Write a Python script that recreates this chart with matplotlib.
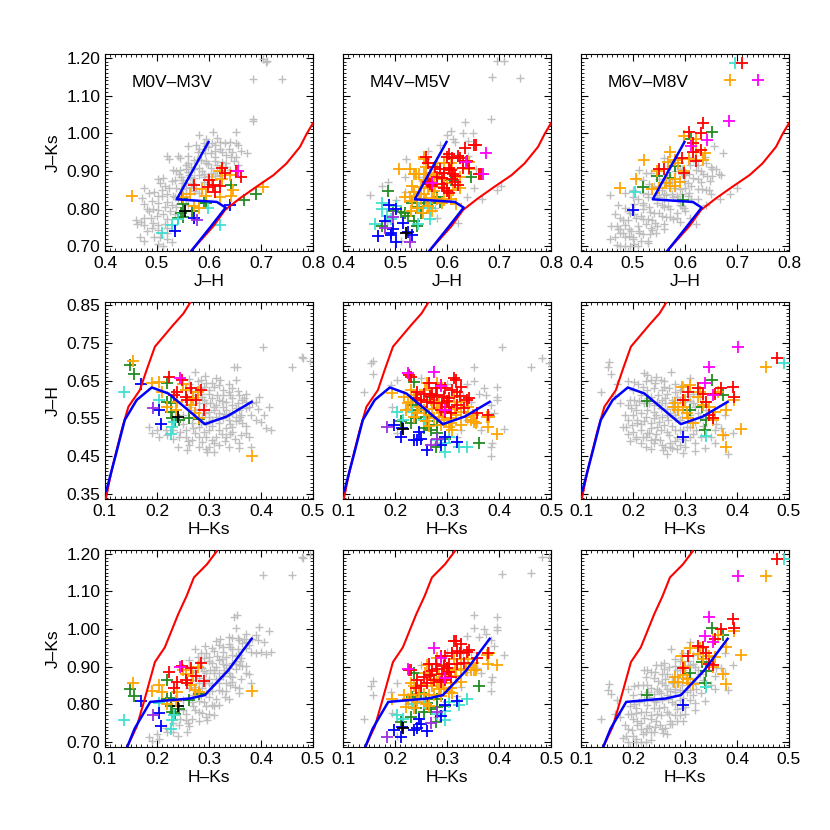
import numpy as np
import matplotlib.pyplot as plt
from matplotlib.ticker import MultipleLocator, FixedLocator, FormatStrFormatter

plt.rcParams['font.family'] = ['Liberation Sans', 'DejaVu Sans']

# dwarf sequence as read in each plane
dwarf_top_jh = [0.599, 0.538, 0.615, 0.632, 0.599, 0.567, 0.555]
dwarf_top_jk = [0.977, 0.825, 0.818, 0.803, 0.745, 0.690, 0.670]
dwarf_mid_hk = [0.10, 0.103, 0.12, 0.138, 0.161, 0.190, 0.222, 0.292, 0.334, 0.382]
dwarf_mid_jh = [0.355, 0.361, 0.45, 0.546, 0.599, 0.632, 0.616, 0.535, 0.555, 0.594]
dwarf_bot_hk = [0.138, 0.143, 0.157, 0.187, 0.263, 0.292, 0.337, 0.382]
dwarf_bot_jk = [0.670, 0.687, 0.735, 0.806, 0.815, 0.824, 0.890, 0.974]

# giant branch as read in each plane
giant_top_jh = [0.567, 0.608, 0.631, 0.660, 0.692, 0.724, 0.749, 0.775, 0.788, 0.800]
giant_top_jk = [0.690, 0.753, 0.797, 0.828, 0.859, 0.889, 0.920, 0.964, 0.999, 1.027]
giant_mid_hk = [0.101, 0.113, 0.132, 0.145, 0.167, 0.180, 0.196, 0.231, 0.251, 0.265]
giant_mid_jh = [0.334, 0.414, 0.519, 0.581, 0.625, 0.678, 0.740, 0.797, 0.828, 0.859]
giant_bot_hk = [0.143, 0.161, 0.174, 0.196, 0.215, 0.241, 0.257, 0.271, 0.296, 0.315]
giant_bot_jk = [0.687, 0.740, 0.802, 0.912, 0.951, 1.040, 1.088, 1.137, 1.172, 1.207]

titles = ['M0V\u2013M3V', 'M4V\u2013M5V', 'M6V\u2013M8V']
xt_top = [0.4, 0.5, 0.6, 0.7, 0.8]
xt_hk = [0.1, 0.2, 0.3, 0.4, 0.5]
yt_jk = [0.70, 0.80, 0.90, 1.00, 1.10, 1.20]
yt_jh = [0.35, 0.45, 0.55, 0.65, 0.75, 0.85]

# ---- M0V-M3V, points as (H-Ks, J-H); J-Ks = J-H + H-Ks
m03_grey = [(0.403, 0.740), (0.479, 0.712), (0.459, 0.685), (0.494, 0.703), (0.348, 0.685),
            (0.273, 0.674), (0.313, 0.656), (0.351, 0.652), (0.294, 0.643), (0.319, 0.639),
            (0.281, 0.630), (0.300, 0.625), (0.326, 0.625), (0.338, 0.621), (0.371, 0.616),
            (0.396, 0.608), (0.364, 0.599), (0.287, 0.608), (0.306, 0.603), (0.319, 0.599),
            (0.332, 0.594), (0.345, 0.603), (0.294, 0.590), (0.313, 0.586), (0.326, 0.581),
            (0.351, 0.577), (0.300, 0.568), (0.319, 0.564), (0.338, 0.559), (0.358, 0.572),
            (0.377, 0.581), (0.390, 0.594), (0.306, 0.546), (0.319, 0.537), (0.338, 0.546),
            (0.351, 0.542), (0.364, 0.537), (0.281, 0.528), (0.300, 0.519), (0.319, 0.519),
            (0.332, 0.524), (0.345, 0.528), (0.255, 0.502), (0.274, 0.511), (0.294, 0.502),
            (0.313, 0.502), (0.268, 0.493), (0.287, 0.489), (0.306, 0.493), (0.262, 0.480),
            (0.281, 0.475), (0.300, 0.475), (0.319, 0.480), (0.338, 0.475), (0.358, 0.484),
            (0.377, 0.502), (0.409, 0.524), (0.258, 0.467), (0.297, 0.462), (0.358, 0.471),
            (0.380, 0.475), (0.185, 0.528), (0.204, 0.502), (0.217, 0.519), (0.191, 0.511),
            (0.255, 0.519), (0.242, 0.502), (0.332, 0.502), (0.371, 0.511), (0.326, 0.612),
            (0.358, 0.612), (0.274, 0.612), (0.287, 0.555), (0.268, 0.537), (0.313, 0.555),
            (0.326, 0.550), (0.300, 0.616), (0.332, 0.572), (0.351, 0.555), (0.371, 0.594),
            (0.383, 0.590), (0.274, 0.572), (0.353, 0.685), (0.481, 0.709), (0.262, 0.640),
            (0.285, 0.652), (0.310, 0.580), (0.295, 0.535), (0.340, 0.510), (0.280, 0.590),
            (0.250, 0.560), (0.265, 0.600), (0.345, 0.585), (0.360, 0.555), (0.230, 0.495),
            (0.262, 0.655), (0.278, 0.648), (0.292, 0.662), (0.305, 0.645), (0.322, 0.652),
            (0.338, 0.640), (0.290, 0.632), (0.310, 0.632), (0.345, 0.630), (0.268, 0.622),
            (0.285, 0.615), (0.315, 0.612), (0.340, 0.612), (0.355, 0.622), (0.368, 0.605),
            (0.290, 0.598), (0.302, 0.590), (0.325, 0.595), (0.355, 0.592), (0.372, 0.578),
            (0.262, 0.580), (0.280, 0.575), (0.292, 0.565), (0.310, 0.572), (0.328, 0.562),
            (0.345, 0.565), (0.362, 0.560), (0.380, 0.560), (0.395, 0.575), (0.270, 0.555),
            (0.300, 0.555), (0.320, 0.548), (0.340, 0.535), (0.358, 0.545), (0.372, 0.530),
            (0.390, 0.545), (0.285, 0.540), (0.305, 0.530), (0.325, 0.510), (0.345, 0.515),
            (0.362, 0.505), (0.290, 0.515), (0.270, 0.525), (0.250, 0.535), (0.245, 0.515),
            (0.230, 0.520), (0.260, 0.490), (0.280, 0.500), (0.310, 0.485), (0.330, 0.490),
            (0.350, 0.495), (0.295, 0.470), (0.240, 0.475), (0.220, 0.505), (0.200, 0.520),
            (0.310, 0.460), (0.420, 0.520), (0.400, 0.540), (0.405, 0.560), (0.415, 0.580)]
m03_orange = [(0.154, 0.703), (0.191, 0.643), (0.203, 0.647), (0.210, 0.621), (0.255, 0.625),
              (0.278, 0.621), (0.239, 0.594), (0.265, 0.586), (0.274, 0.564), (0.236, 0.572),
              (0.220, 0.581), (0.281, 0.550), (0.383, 0.452), (0.250, 0.640), (0.270, 0.605)]
m03_red = [(0.224, 0.661), (0.249, 0.652), (0.239, 0.621), (0.265, 0.630), (0.284, 0.625),
           (0.258, 0.599), (0.255, 0.608), (0.290, 0.572), (0.232, 0.612), (0.275, 0.600)]
m03_magenta = [(0.244, 0.656)]
m03_green = [(0.149, 0.691), (0.156, 0.667), (0.220, 0.643), (0.220, 0.594), (0.226, 0.590),
             (0.229, 0.550), (0.242, 0.546), (0.262, 0.550), (0.226, 0.568), (0.235, 0.540),
             (0.280, 0.548)]
m03_cyan = [(0.137, 0.621), (0.204, 0.599), (0.229, 0.528), (0.226, 0.509), (0.232, 0.540)]
m03_blue = [(0.169, 0.640), (0.204, 0.572), (0.207, 0.535)]
m03_purple = [(0.193, 0.577)]
m03_black = [(0.241, 0.553)]

# ---- M4V-M5V
m45_grey = [(0.406, 0.740), (0.483, 0.709), (0.461, 0.687), (0.496, 0.696), (0.153, 0.696),
            (0.158, 0.703), (0.158, 0.667), (0.140, 0.621), (0.352, 0.685), (0.352, 0.650),
            (0.339, 0.641), (0.371, 0.630), (0.362, 0.616), (0.374, 0.612), (0.397, 0.634),
            (0.397, 0.608), (0.397, 0.599), (0.384, 0.586), (0.390, 0.564), (0.410, 0.522),
            (0.384, 0.475), (0.384, 0.452), (0.195, 0.581), (0.204, 0.652), (0.192, 0.639),
            (0.249, 0.656), (0.358, 0.537), (0.346, 0.594), (0.326, 0.519), (0.204, 0.511),
            (0.281, 0.484), (0.320, 0.502), (0.365, 0.519), (0.224, 0.577), (0.339, 0.546),
            (0.386, 0.486), (0.300, 0.640), (0.330, 0.610)]
m45_orange = [(0.195, 0.618), (0.217, 0.608), (0.224, 0.590), (0.221, 0.572), (0.230, 0.594),
              (0.246, 0.581), (0.256, 0.572), (0.265, 0.559), (0.275, 0.550), (0.285, 0.555),
              (0.294, 0.546), (0.307, 0.550), (0.317, 0.559), (0.326, 0.568), (0.336, 0.555),
              (0.346, 0.546), (0.355, 0.537), (0.378, 0.528), (0.397, 0.508), (0.262, 0.643),
              (0.281, 0.643), (0.237, 0.612), (0.269, 0.599), (0.285, 0.594), (0.301, 0.594),
              (0.313, 0.608), (0.326, 0.594), (0.281, 0.577), (0.288, 0.533), (0.304, 0.528),
              (0.259, 0.542), (0.237, 0.553), (0.381, 0.555), (0.326, 0.533), (0.307, 0.537),
              (0.243, 0.564), (0.291, 0.564), (0.376, 0.555), (0.351, 0.541), (0.250, 0.600),
              (0.272, 0.575), (0.298, 0.580), (0.315, 0.575), (0.258, 0.625), (0.340, 0.580),
              (0.230, 0.625), (0.310, 0.520), (0.265, 0.530), (0.350, 0.560), (0.295, 0.610)]
m45_red = [(0.227, 0.665), (0.230, 0.661), (0.313, 0.656), (0.317, 0.652), (0.288, 0.639),
           (0.297, 0.630), (0.310, 0.625), (0.320, 0.621), (0.243, 0.621), (0.256, 0.616),
           (0.272, 0.616), (0.281, 0.612), (0.294, 0.608), (0.304, 0.603), (0.339, 0.599),
           (0.342, 0.603), (0.249, 0.599), (0.262, 0.594), (0.275, 0.590), (0.291, 0.590),
           (0.304, 0.581), (0.320, 0.586), (0.333, 0.577), (0.297, 0.568), (0.307, 0.564),
           (0.358, 0.564), (0.378, 0.559), (0.278, 0.630), (0.265, 0.643), (0.326, 0.634),
           (0.240, 0.603), (0.288, 0.572), (0.268, 0.610), (0.300, 0.595), (0.325, 0.610)]
m45_magenta = [(0.275, 0.674), (0.224, 0.669), (0.297, 0.572), (0.288, 0.636)]
m45_green = [(0.237, 0.647), (0.233, 0.586), (0.249, 0.581), (0.259, 0.555), (0.256, 0.524),
             (0.269, 0.519), (0.281, 0.511), (0.278, 0.475), (0.297, 0.497), (0.362, 0.486),
             (0.262, 0.542), (0.281, 0.533), (0.240, 0.550), (0.211, 0.542), (0.230, 0.537),
             (0.243, 0.572), (0.269, 0.608)]
m45_cyan = [(0.204, 0.568), (0.233, 0.568), (0.256, 0.546), (0.281, 0.493), (0.297, 0.484),
            (0.297, 0.462), (0.323, 0.475), (0.339, 0.475), (0.304, 0.502), (0.215, 0.545)]
m45_blue = [(0.198, 0.533), (0.214, 0.524), (0.211, 0.502), (0.237, 0.493), (0.243, 0.493),
            (0.246, 0.515), (0.249, 0.497), (0.262, 0.467), (0.288, 0.480), (0.297, 0.502),
            (0.320, 0.489)]
m45_purple = [(0.185, 0.528), (0.269, 0.480), (0.281, 0.497)]
m45_black = [(0.216, 0.521)]

# ---- M6V-M8V
m68_grey = [(0.154, 0.700), (0.151, 0.687), (0.158, 0.668), (0.139, 0.621), (0.170, 0.641),
            (0.202, 0.647), (0.221, 0.669), (0.227, 0.665), (0.234, 0.652), (0.243, 0.643),
            (0.253, 0.652), (0.274, 0.674), (0.310, 0.656), (0.259, 0.634), (0.240, 0.630),
            (0.227, 0.625), (0.215, 0.612), (0.234, 0.608), (0.249, 0.612), (0.265, 0.616),
            (0.281, 0.621), (0.246, 0.594), (0.262, 0.590), (0.275, 0.581), (0.253, 0.577),
            (0.240, 0.568), (0.227, 0.572), (0.215, 0.564), (0.202, 0.599), (0.196, 0.577),
            (0.205, 0.572), (0.256, 0.555), (0.268, 0.546), (0.281, 0.550), (0.259, 0.533),
            (0.246, 0.528), (0.234, 0.537), (0.221, 0.542), (0.208, 0.546), (0.186, 0.528),
            (0.199, 0.533), (0.215, 0.519), (0.230, 0.511), (0.243, 0.497), (0.253, 0.519),
            (0.265, 0.515), (0.272, 0.484), (0.262, 0.475), (0.275, 0.471), (0.291, 0.480),
            (0.300, 0.493), (0.310, 0.502), (0.319, 0.484), (0.338, 0.471), (0.357, 0.484),
            (0.376, 0.506), (0.382, 0.455), (0.392, 0.511), (0.284, 0.502), (0.297, 0.519),
            (0.310, 0.528), (0.322, 0.519), (0.291, 0.546), (0.303, 0.528), (0.297, 0.594),
            (0.316, 0.590), (0.329, 0.608), (0.316, 0.616), (0.297, 0.639), (0.284, 0.608),
            (0.341, 0.572), (0.376, 0.559), (0.357, 0.519), (0.272, 0.564), (0.221, 0.590),
            (0.240, 0.586), (0.205, 0.502), (0.234, 0.493), (0.281, 0.519), (0.329, 0.550),
            (0.284, 0.572), (0.303, 0.568), (0.207, 0.537), (0.181, 0.528), (0.226, 0.511),
            (0.252, 0.493), (0.271, 0.475), (0.297, 0.458), (0.258, 0.466), (0.205, 0.495),
            (0.215, 0.485), (0.225, 0.475), (0.235, 0.470), (0.220, 0.500), (0.250, 0.540),
            (0.265, 0.560), (0.240, 0.550), (0.255, 0.600), (0.230, 0.590), (0.290, 0.600),
            (0.190, 0.650), (0.210, 0.640), (0.225, 0.648), (0.245, 0.660), (0.260, 0.650),
            (0.280, 0.640), (0.200, 0.625), (0.220, 0.632), (0.255, 0.625), (0.270, 0.630),
            (0.290, 0.625), (0.305, 0.610), (0.195, 0.600), (0.212, 0.595), (0.228, 0.605),
            (0.262, 0.605), (0.275, 0.598), (0.310, 0.595), (0.320, 0.580), (0.190, 0.585),
            (0.205, 0.585), (0.250, 0.585), (0.265, 0.575), (0.295, 0.575), (0.310, 0.560),
            (0.325, 0.565), (0.185, 0.560), (0.200, 0.560), (0.225, 0.555), (0.245, 0.560),
            (0.280, 0.560), (0.295, 0.555), (0.320, 0.540), (0.190, 0.545), (0.215, 0.535),
            (0.235, 0.525), (0.275, 0.530), (0.290, 0.520), (0.315, 0.510), (0.335, 0.530),
            (0.190, 0.510), (0.200, 0.515), (0.225, 0.500), (0.245, 0.510), (0.270, 0.505),
            (0.295, 0.495), (0.330, 0.500), (0.195, 0.490), (0.240, 0.485), (0.255, 0.480),
            (0.285, 0.470), (0.300, 0.475), (0.320, 0.465), (0.265, 0.455), (0.280, 0.490),
            (0.165, 0.610), (0.175, 0.590), (0.360, 0.535), (0.350, 0.500), (0.370, 0.525)]
m68_orange = [(0.455, 0.687), (0.294, 0.634), (0.310, 0.639), (0.300, 0.599), (0.281, 0.590),
              (0.278, 0.581), (0.287, 0.572), (0.303, 0.564), (0.306, 0.550), (0.316, 0.537),
              (0.325, 0.608), (0.335, 0.586), (0.347, 0.581), (0.357, 0.568), (0.363, 0.621),
              (0.379, 0.572), (0.395, 0.599), (0.408, 0.522), (0.373, 0.506), (0.379, 0.475),
              (0.354, 0.546), (0.329, 0.621), (0.297, 0.581)]
m68_red = [(0.392, 0.634), (0.395, 0.608), (0.370, 0.630), (0.357, 0.616), (0.341, 0.594),
           (0.325, 0.630), (0.306, 0.621), (0.297, 0.599), (0.347, 0.559), (0.354, 0.550),
           (0.477, 0.709), (0.335, 0.616)]
m68_magenta = [(0.401, 0.740), (0.347, 0.685), (0.338, 0.643), (0.354, 0.612)]
m68_green = [(0.351, 0.652), (0.373, 0.612), (0.227, 0.597), (0.310, 0.572), (0.332, 0.581),
             (0.341, 0.546), (0.338, 0.519)]
m68_cyan = [(0.490, 0.696), (0.341, 0.504)]
m68_blue = [(0.297, 0.500)]

columns = [
    [('grey', m03_grey), ('green', m03_green), ('cyan', m03_cyan), ('blue', m03_blue),
     ('purple', m03_purple), ('black', m03_black), ('orange', m03_orange), ('red', m03_red),
     ('magenta', m03_magenta)],
    [('grey', m45_grey), ('green', m45_green), ('cyan', m45_cyan), ('blue', m45_blue),
     ('purple', m45_purple), ('black', m45_black), ('orange', m45_orange), ('red', m45_red),
     ('magenta', m45_magenta)],
    [('grey', m68_grey), ('green', m68_green), ('cyan', m68_cyan), ('blue', m68_blue),
     ('orange', m68_orange), ('red', m68_red), ('magenta', m68_magenta)],
]

colours = {'grey': '#bebebe', 'green': '#228b22', 'cyan': '#40e0d0', 'blue': '#0000ff',
           'purple': '#9a30e0', 'black': '#000000', 'orange': '#ffa500', 'red': '#ff0000',
           'magenta': '#ff00ff'}


def project(hk, jh, row):
    jk = np.asarray(hk) + np.asarray(jh)
    if row == 0:
        return np.asarray(jh), jk
    if row == 1:
        return np.asarray(hk), np.asarray(jh)
    return np.asarray(hk), jk


fig = plt.figure(figsize=(8.3, 8.3), dpi=100)
lefts = [0.1265, 0.4133, 0.700]
bottoms = [0.6976, 0.3988, 0.100]
w, h = 0.2506, 0.2373

for row in range(3):
    for col in range(3):
        ax = fig.add_axes([lefts[col], bottoms[row], w, h])

        for name, pts in columns[col]:
            arr = np.array(pts)
            x, y = project(arr[:, 0], arr[:, 1], row)
            if name == 'grey':
                ax.scatter(x, y, marker='+', s=30, linewidths=1.0, color=colours[name], zorder=2)
            else:
                ax.scatter(x, y, marker='+', s=72, linewidths=1.3, color=colours[name], zorder=3)

        if row == 0:
            ax.plot(giant_top_jh, giant_top_jk, color='#ff0000', lw=1.5, zorder=4)
            ax.plot(dwarf_top_jh, dwarf_top_jk, color='#0000ff', lw=1.8, zorder=5)
        elif row == 1:
            ax.plot(giant_mid_hk, giant_mid_jh, color='#ff0000', lw=1.5, zorder=4)
            ax.plot(dwarf_mid_hk, dwarf_mid_jh, color='#0000ff', lw=1.8, zorder=5)
        else:
            ax.plot(giant_bot_hk, giant_bot_jk, color='#ff0000', lw=1.5, zorder=4)
            ax.plot(dwarf_bot_hk, dwarf_bot_jk, color='#0000ff', lw=1.8, zorder=5)

        if row == 0:
            ax.set_xlim(0.4, 0.8)
            ax.set_ylim(0.688, 1.21)
            ax.xaxis.set_major_locator(FixedLocator(xt_top))
            ax.yaxis.set_major_locator(FixedLocator(yt_jk))
            ax.set_xlabel('J\u2013H', fontsize=12.5, labelpad=2)
            ax.text(0.13, 0.853, titles[col], transform=ax.transAxes,
                    fontsize=12.5, va='center', ha='left')
        else:
            ax.set_xlim(0.1, 0.5)
            ax.xaxis.set_major_locator(FixedLocator(xt_hk))
            ax.set_xlabel('H\u2013Ks', fontsize=12.5, labelpad=2)
            if row == 1:
                ax.set_ylim(0.337, 0.858)
                ax.yaxis.set_major_locator(FixedLocator(yt_jh))
            else:
                ax.set_ylim(0.686, 1.21)
                ax.yaxis.set_major_locator(FixedLocator(yt_jk))
        ax.xaxis.set_minor_locator(MultipleLocator(0.01))
        ax.yaxis.set_minor_locator(MultipleLocator(0.01))
        ax.xaxis.set_major_formatter(FormatStrFormatter('%.1f'))
        ax.yaxis.set_major_formatter(FormatStrFormatter('%.2f'))
        ax.tick_params(which='both', direction='in', top=True, right=True, labelsize=12.5)
        ax.tick_params(which='major', length=5, width=0.8)
        ax.tick_params(which='minor', length=2.5, width=0.6)
        if col == 0:
            ax.set_ylabel('J\u2013H' if row == 1 else 'J\u2013Ks', fontsize=12.5)
        else:
            ax.tick_params(labelleft=False)

fig.savefig('out.png', dpi=100, facecolor='white')
